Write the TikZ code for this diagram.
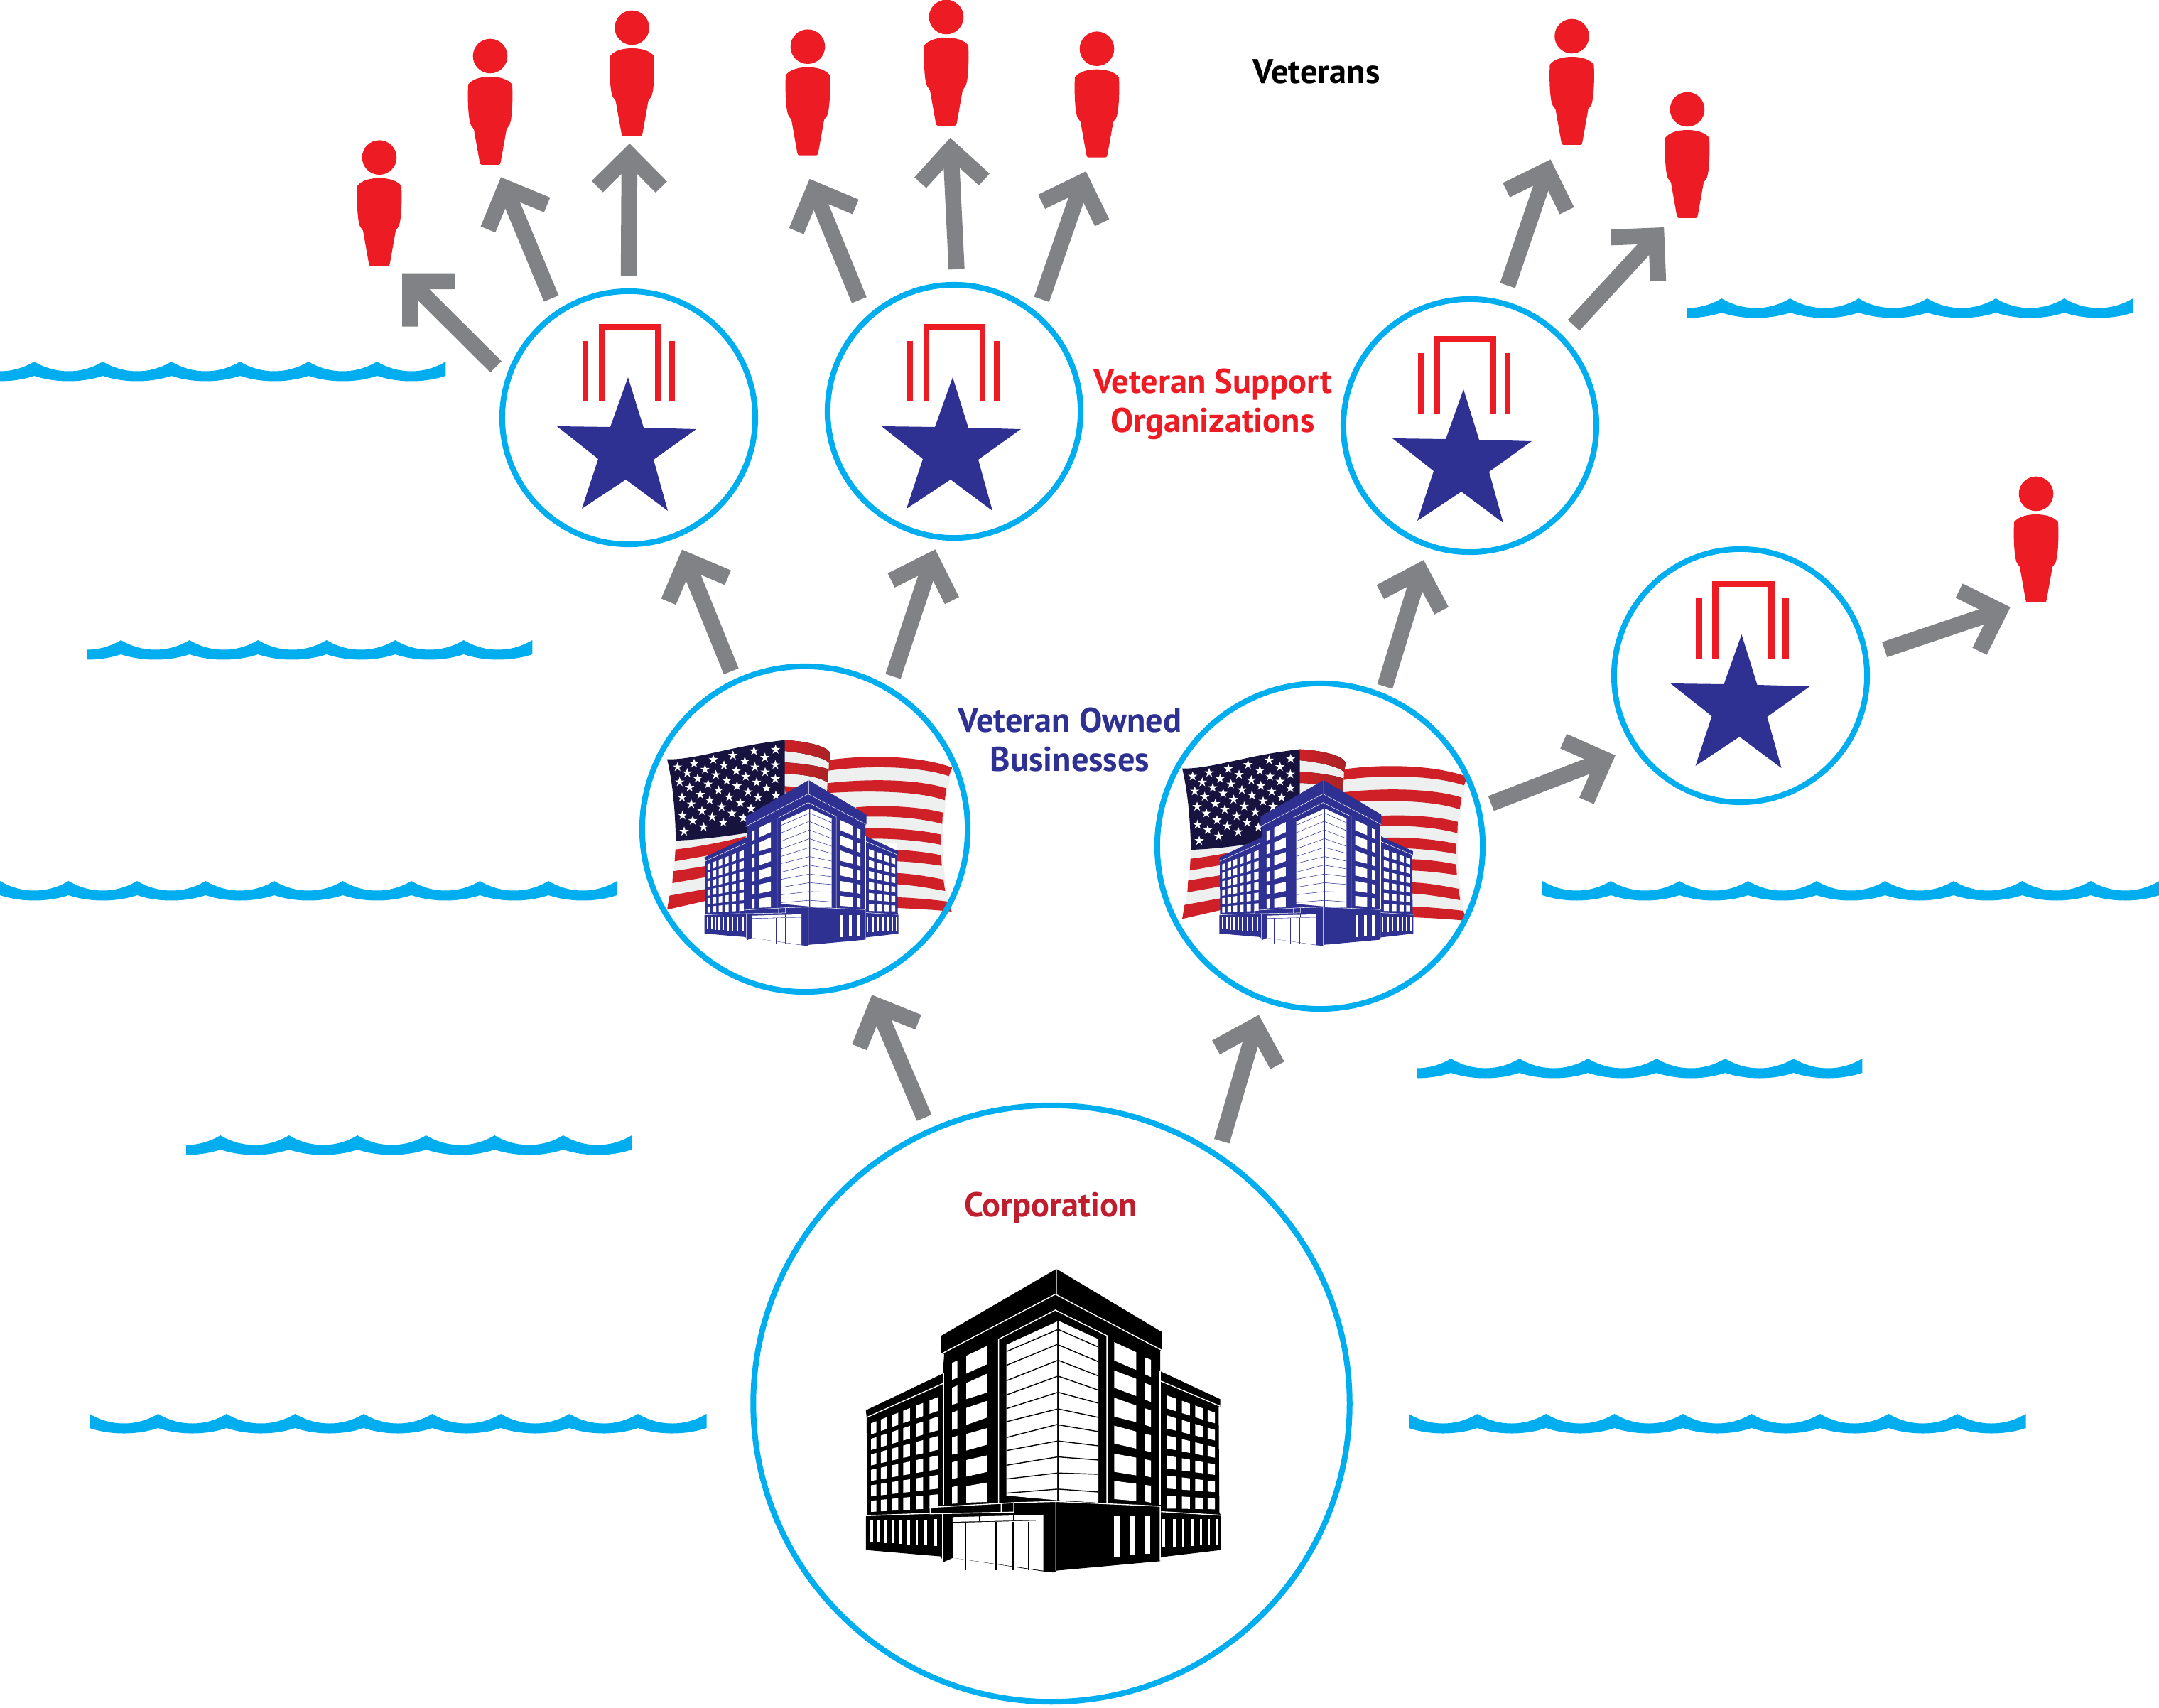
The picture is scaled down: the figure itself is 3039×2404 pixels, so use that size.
\documentclass[tikz,border=0pt]{standalone}
\usepackage{fontspec}
\setmainfont{PT Sans}
\usetikzlibrary{arrows.meta}
\definecolor{ringblue}{HTML}{00AEEF}
\definecolor{arrowgray}{HTML}{808285}
\definecolor{vetred}{HTML}{ED1C24}
\definecolor{vetblue}{HTML}{2E3192}
\definecolor{corpred}{HTML}{BE1E2D}
\definecolor{flagnavy}{HTML}{16133F}
\definecolor{flagred}{HTML}{CF2027}
\definecolor{flagdark}{HTML}{A92326}
\definecolor{flagwhite}{HTML}{EEF0EF}
\tikzset{
  ring/.style={circle,draw=ringblue,line width=0.08cm,inner sep=0pt},
  vsoring/.style={ring,minimum size=3.56cm,outer sep=0.22cm},
  vobring/.style={ring,minimum size=4.58cm,outer sep=0.19cm},
  corpring/.style={ring,minimum size=8.39cm,outer sep=0.205cm},
  personbox/.style={rectangle,minimum width=0.62cm,minimum height=1.77cm,inner sep=0pt,outer sep=0.1cm},
  flow/.style={draw=arrowgray,line width=0.224cm,-{Straight Barb[length=0.45cm,width=0.9cm]}},
  lbl/.style={font=\bfseries\fontsize{13.75}{15.6}\selectfont,align=center,inner sep=0pt},
  pics/person/.style={code={
      \fill[vetred] (0,0) circle (24.3);
      \fill[vetred] (-31,40) .. controls (-25,32) and (-12,29) .. (0,29) .. controls (12,29) and (25,32) .. (31,40)
        .. controls (32,60) and (31,85) .. (28,95) .. controls (27,99) and (24,100) .. (23,103) -- (15,148)
        .. controls (14.5,151) and (14,153) .. (12,153) -- (-12,153) .. controls (-14,153) and (-14.5,151) .. (-15,148)
        -- (-23,103) .. controls (-24,100) and (-27,99) .. (-28,95) .. controls (-31,85) and (-32,60) .. (-31,40) -- cycle;
  }},
  pics/medal/.style={code={
      \draw[vetred,line width=0.083cm] (-38,-23) -- (-38,-128) -- (41,-128) -- (41,-23);
      \draw[vetred,line width=0.083cm] (-61,-108) -- (-61,-23);
      \draw[vetred,line width=0.083cm] (61,-108) -- (61,-23);
      \fill[vetblue] (-1,-57) -- (21,14) -- (95,16) -- (35,59) -- (55,131) -- (-4,87) -- (-66,128) -- (-43,58) -- (-101,12) -- (-26,13) -- cycle;
  }},
  pics/wave/.style 2 args={code={
      \clip (0,-5) rectangle ({#2*96.5+#1},40);
      \fill[ringblue] (#1,0)
        \foreach \k in {1,...,#2} { .. controls ({(\k-1)*96.5+#1+30},18) and ({\k*96.5+#1-30},18) .. ({\k*96.5+#1},0) }
        -- ({#2*96.5+#1},20)
        \foreach \k in {#2,...,1} { .. controls ({\k*96.5+#1-30},30) and ({(\k-1)*96.5+#1+30},30) .. ({(\k-1)*96.5+#1},20) }
        -- cycle;
  }},
  pics/usflag/.style={code={
      \begin{scope}[shift={(-760,-742)}]
      \fill[flagwhite] (215,785) -- (520,730) -- (520,1000) -- (340,1045) -- (178,1082) .. controls (195,1020) and (212,900) .. (215,785) -- cycle;
      \fill[flagred] (213,828) .. controls (320,815) and (420,795) .. (510,772) -- (510,820) -- (340,855) -- (210,878) -- cycle;
      \fill[flagred] (203,920) -- (340,898) -- (340,945) -- (200,970) -- cycle;
      \fill[flagred] (188,1023) -- (340,995) -- (340,1045) -- (178,1082) -- cycle;
      \fill[flagwhite] (675,366) .. controls (760,370) and (860,390) .. (868,420) -- (850,600) -- (672,600) -- cycle;
      \fill[left color=flagred,right color=flagdark] (675,366) .. controls (760,370) and (860,390) .. (868,425) -- (862,462) .. controls (840,440) and (760,420) .. (672,412) -- cycle;
      \fill[left color=flagred,right color=flagdark] (672,460) .. controls (760,465) and (840,480) .. (860,490) -- (855,545) .. controls (830,525) and (760,510) .. (672,508) -- cycle;
      \fill[flagred] (672,560) -- (740,565) -- (680,600) -- cycle;
      \fill[flagwhite] (862,450) .. controls (1020,428) and (1240,430) .. (1382,482) .. controls (1340,680) and (1320,860) .. (1380,1090) -- (1150,1075) -- (1150,800) -- (860,800) -- cycle;
      \fill[flagred] (862,450) .. controls (1020,428) and (1240,430) .. (1382,482) -- (1368,518) .. controls (1240,475) and (1020,472) .. (860,495) -- cycle;
      \fill[flagred] (855,548) .. controls (1020,528) and (1240,530) .. (1358,570) -- (1350,620) .. controls (1240,580) and (1020,578) .. (853,590) -- cycle;
      \fill[flagred] (975,650) .. controls (1100,638) and (1250,648) .. (1342,672) -- (1340,720) .. controls (1250,695) and (1120,685) .. (1000,690) -- cycle;
      \fill[flagred] (1010,740) .. controls (1120,735) and (1250,745) .. (1335,765) -- (1335,808) .. controls (1250,790) and (1120,780) .. (1010,782) -- cycle;
      \fill[flagred] (1150,830) .. controls (1210,832) and (1280,840) .. (1335,852) -- (1338,897) .. controls (1280,888) and (1210,880) .. (1150,878) -- cycle;
      \fill[flagred] (1150,928) .. controls (1210,930) and (1280,942) .. (1345,955) -- (1352,1003) .. controls (1280,990) and (1210,978) .. (1150,975) -- cycle;
      \fill[flagred] (1150,1030) .. controls (1220,1032) and (1300,1040) .. (1365,1048) -- (1380,1090) .. controls (1300,1082) and (1220,1078) .. (1150,1075) -- cycle;
      \fill[flagnavy] (178,447) .. controls (300,450) and (450,390) .. (675,366) -- (675,735) .. controls (550,750) and (380,785) .. (215,790) .. controls (212,680) and (205,560) .. (178,447) -- cycle;
      \foreach \a/\b in {222/480,292/465,373/448,456/431,545/412,636/406,263/505,338/490,418/473,506/456,591/440,
          231/543,307/528,384/513,470/496,549/480,635/471,273/566,351/552,430/537,510/520,592/501,
          241/608,318/596,395/578,473/560,556/544,635/530,280/636,358/620,440/607,520/585,598/569,
          325/665,408/648,487/631,562/608,637/600,243/684,368/690,452/675,532/655,286/706,415/714,500/695,250/752,332/733}
        \fill[white,shift={(\a,\b)}] (0,-21) -- (5,-6.5) -- (20,-6.5) -- (7.5,2.5) -- (12.4,17) -- (0,8) -- (-12.4,17) -- (-7.5,2.5) -- (-20,-6.5) -- (-5,-6.5) -- cycle;
      \end{scope}
  }},
  pics/building/.style 2 args={code={
      \begin{scope}[shift={(-830,-1120)}]
      \fill[#1] (392,420) -- (830,138) -- (1232,405) -- (1232,482) -- (1225,485) -- (1225,570) -- (1453,688) -- (1453,720) -- (1447,722)
        -- (1450,1165) -- (1455,1178) -- (1455,1325) -- (1228,1355) -- (1225,1372) -- (830,1412) -- (822,1420) -- (780,1415) -- (436,1358)
        -- (400,1376) -- (390,1352) -- (105,1325) -- (105,1182) -- (110,1178) -- (108,765) -- (105,735) -- (398,580) -- (403,497) -- (392,497) -- cycle;
      \fill[white] (640,458) -- (833,360) -- (833,1115) -- (640,1095) -- cycle;
      \fill[white] (840,358) -- (990,435) -- (990,1125) -- (840,1115) -- cycle;
      \foreach \a/\b in {395/487,457/545,525/610,592/670,660/728,730/783,795/850,865/905,932/967,1000/1025,1068/1085}
        \draw[#1,line width=#2] (833,\a) -- (640,\b);
      \foreach \a/\b in {395/468,460/530,525/590,592/650,660/705,730/765,797/825,865/885,932/945,1000/1005,1068/1080}
        \draw[#1,line width=#2] (840,\a) -- (990,\b);
      \draw[white,line width=#2] (830,138) -- (830,245) (392,497) -- (826,245) -- (1232,482);
      \draw[white,line width=#2] (610,1130) -- (610,435) -- (826,312) -- (1022,420) -- (1022,1130);
      \draw[white,line width=#2] (400,580) -- (400,1135) (1225,570) -- (1225,1135);
      \draw[white,line width=#2] (108,765) -- (398,622) (1228,612) -- (1453,718);
      \draw[white,line width=#2] (105,1180) -- (350,1170) (1228,1163) -- (1455,1178);
      \draw[white,line width=#2] (350,1145) -- (668,1125) -- (668,1165) -- (350,1172) -- cycle (620,1128) -- (620,1165);
      \draw[white,line width=#2] (668,1125) -- (828,1120) -- (1225,1140) -- (1225,1370) (828,1120) -- (828,1412) (397,1172) -- (397,1375);
      \foreach \a/\b/\c/\d/\e/\f in {487/567/505/463/580/540,487/567/620/580/688/660,487/567/725/695/797/765,487/567/835/810/905/880,487/567/945/925/1015/995,487/567/1055/1040/1125/1122,
          433/453/535/525/607/597,433/453/640/630/712/705,433/453/745/736/818/812,433/453/850/842/922/918,433/453/955/948/1025/1020,433/453/1060/1053/1130/1128,
          1050/1134/447/490/525/565,1050/1134/567/602/640/675,1050/1134/682/715/762/785,1050/1134/800/825/875/897,1050/1134/918/935/995/1010,1050/1134/1033/1045/1110/1118,
          1167/1190/512/522/583/595,1167/1190/620/630/690/700,1167/1190/727/735/797/805,1167/1190/835/840/905/912,1167/1190/942/947/1012/1018,1167/1190/1050/1053/1120/1125}
        \fill[white] (\a,\c) -- (\b,\d) -- (\b,\f) -- (\a,\e) -- cycle;
      \foreach \a/\b in {125/145,162/186,203/228,247/273,295/323,347/378}
        \foreach \n in {0,...,5}
          \fill[white] (\a,{ltop(\a,\n)}) -- (\b,{ltop(\b,\n)}) -- (\b,{ltop(\b,\n)+lhgt(\b)}) -- (\a,{ltop(\a,\n)+lhgt(\a)}) -- cycle;
      \foreach \a/\b in {1250/1285,1307/1338,1358/1388,1405/1433}
        \foreach \n in {0,...,5}
          \fill[white] (\a,{rtop(\a,\n)}) -- (\b,{rtop(\b,\n)}) -- (\b,{rtop(\b,\n)+rhgt(\b)}) -- (\a,{rtop(\a,\n)+rhgt(\a)}) -- cycle;
      \foreach \a in {128,155,180,207,237,268,299,333,371}
        \fill[white] (\a-5,{1200-(\a-128)*0.02}) rectangle (\a+5,{1292+(\a-128)*0.066});
      \foreach \a in {1238,1278,1312,1348,1380,1410,1440}
        \fill[white] (\a-5,1195) rectangle (\a+5,{1315-(\a-1238)*0.06});
      \foreach \a/\b/\c in {1060/1183/1352,1121/1183/1345,1177/1183/1340}
        \fill[white] (\a-10,\b) rectangle (\a+10,\c);
      \fill[white] (435,1186) -- (780,1176) -- (780,1198) -- (435,1206) -- cycle;
      \fill[white] (437,1210) -- (780,1200) -- (780,1412) -- (437,1358) -- cycle;
      \foreach \a in {484,540,600,665,725}
        \draw[#1,line width=#2] (\a,1205) -- (\a,1410);
      \draw[#1,line width=#2] (538,1178) -- (538,1204) (668,1176) -- (668,1200);
      \end{scope}
  }},
}
\begin{document}
\begin{tikzpicture}[x=0.01cm,y=-0.01cm,
    declare function={
      ltop(\x,\y)=790+65.4*\y+(\x-125)/253*(16.6*\y-110);
      lhgt(\x)=47+(\x-125)*11/253;
      rtop(\x,\y)=672+84.6*\y+(\x-1250)/183*(73-12*\y);
      rhgt(\x)=55-(\x-1250)*10/183;
    }]
  \useasboundingbox (0,0) rectangle (3039,2404);

  \pic at (0,509) {wave={-48.25}{7}};
  \pic at (122,901) {wave={-48.25}{7}};
  \pic at (0,1240) {wave={0}{9}};
  \pic at (262,1598) {wave={-48.25}{7}};
  \pic at (126,1990) {wave={0}{9}};
  \pic at (2375,420) {wave={-48.25}{7}};
  \pic at (2171,1240) {wave={0}{9}};
  \pic at (1994,1490) {wave={-48.25}{7}};
  \pic at (1983,1990) {wave={0}{9}};

  \pic[scale=0.3333] at (1133,1167) {usflag};
  \pic[scale=0.3333] at (1858,1180) {usflag};
  \pic[xscale=0.2022,yscale=0.182] at (1138.3,1276.7) {building={vetblue}{0.15pt}};
  \pic[xscale=0.2022,yscale=0.182] at (1863,1276.7) {building={vetblue}{0.15pt}};
  \pic[xscale=0.37,yscale=0.3333] at (1487,2113.3) {building={black}{0.4pt}};
  \pic at (885,588) {medal};
  \pic at (1342,588) {medal};
  \pic at (2061,605) {medal};
  \pic at (2452.5,950) {medal};

  \node[corpring] (corp) at (1480,1975.5) {};
  \node[vobring] (vob1) at (1133,1167) {};
  \node[vobring] (vob2) at (1858,1191) {};
  \node[vsoring] (vso1) at (885,588) {};
  \node[vsoring] (vso2) at (1343,579) {};
  \node[vsoring] (vso3) at (2069,599) {};
  \node[vsoring] (vso4) at (2450,951) {};

  \foreach \n/\x/\y in {p1/534/221.7,p2/690/79,p3/889.6/39,p4/1137/65.7,p5/1332/24,p6/1544/68.7,p7/2212.5/51,p8/2375/154,p9/2866/695}{
    \pic at (\x,\y) {person};
    \node[personbox] (\n) at (\x,\y+64.5) {};
  }

  \node[lbl] (vets) at (1853,101) {Veterans};
  \node[lbl,text=vetred] (vsolabel) at (1707,569) {Veteran Support\\Organizations};
  \node[lbl,text=vetblue] (voblabel) at (1506,1041) {Veteran Owned\\Businesses};
  \node[lbl,text=corpred] (corplabel) at (1479,1700) {Corporation};

  \draw[flow,shorten >=0.035cm] (corp.114) -- (vob1.-68);
  \draw[flow,shorten >=0.045cm] (corp.57.4) -- (vob2.-110);
  \draw[flow,shorten <=-0.03cm] (vob1.115) -- (vso1.-68.5);
  \draw[flow,shorten >=-0.04cm] (vob1.60) -- (vso2.-98.7);
  \draw[flow,shorten <=-0.055cm] (vob2.68.5) -- (vso3.-109.6);
  \draw[flow,shorten >=0.09cm] (vob2.14.6) -- (vso4.-147.3);
  \draw[flow] (vso1.159.2) -- (p1.-72.2);
  \draw[flow,shorten >=0.08cm] (vso1.123.9) -- (p2.-83.3);
  \draw[flow] (vso1.90) -- (p3.-92.3);
  \draw[flow,shorten <=0.06cm,shorten >=0.25cm] (vso2.131.4) -- (p4.-94.2);
  \draw[flow,shorten >=0.07cm] (vso2.89.3) -- (p5.-87.8);
  \draw[flow,shorten >=0.1cm] (vso2.52.3) -- (p6.-97.4);
  \draw[flow,shorten <=0.04cm,shorten >=0.11cm] (vso3.75.6) -- (p7.-105.3);
  \draw[flow,shorten <=0.03cm,shorten >=0.04cm] (vso3.44) -- (p8.-107);
  \draw[flow,shorten <=0.06cm,shorten >=-0.05cm] (vso4.10) -- (p9.-113.7);
\end{tikzpicture}
\end{document}
